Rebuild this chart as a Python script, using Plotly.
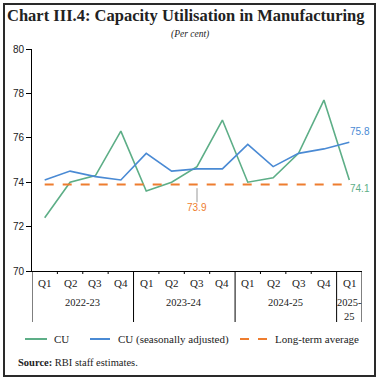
import plotly.graph_objects as go

quarters = ["Q1", "Q2", "Q3", "Q4", "Q1", "Q2", "Q3", "Q4", "Q1", "Q2", "Q3", "Q4", "Q1"]
years = ["2022-23", "2023-24", "2024-25", "2025-<br>25"]
year_spans = [(0, 3), (4, 7), (8, 11), (12, 12)]
cu = [72.4, 74.0, 74.3, 76.3, 73.6, 74.0, 74.7, 76.8, 74.0, 74.2, 75.3, 77.7, 74.1]
cu_sa = [74.1, 74.5, 74.25, 74.1, 75.3, 74.5, 74.6, 74.6, 75.7, 74.7, 75.3, 75.5, 75.8]
lta = 73.9
series_names = ["CU", "CU (seasonally adjusted)", "Long-term average"]

GREEN = "#5dae87"
BLUE = "#4a8ad4"
ORANGE = "#ee7d2f"
TXT = "#222222"
SERIF = "Liberation Serif, DejaVu Serif, serif"
SANS = "Liberation Sans, Arial, sans-serif"

W, H = 380, 380
ML, MR, MT, MB = 32, 18, 49, 109
PW = W - ML - MR
PH = H - MT - MB

def px_x(p):
    return (p - ML) / PW

def px_y(p):
    return (H - MB - p) / PH

x = list(range(len(quarters)))
n = len(quarters)

fig = go.Figure()
fig.add_trace(go.Scatter(x=x, y=cu, mode="lines", name=series_names[0],
                         line=dict(color=GREEN, width=1.6), showlegend=False))
fig.add_trace(go.Scatter(x=x, y=cu_sa, mode="lines", name=series_names[1],
                         line=dict(color=BLUE, width=1.6), showlegend=False))
fig.add_trace(go.Scatter(x=x, y=[lta] * n, mode="lines", name=series_names[2],
                         line=dict(color=ORANGE, width=2, dash="dash"), showlegend=False))

shapes = []
# outer frame
shapes.append(dict(type="rect", xref="paper", yref="paper",
                   x0=px_x(4), x1=px_x(375), y0=px_y(376), y1=px_y(4),
                   line=dict(color="#2a2a2a", width=2)))
for b in [-0.5, 3.5, 7.5, 11.5, n - 0.5]:
    shapes.append(dict(type="line", xref="x", yref="paper", x0=b, x1=b, y0=0, y1=px_y(322),
                       line=dict(color="black", width=1)))
for i in range(n - 1):
    b = i + 0.5
    if b in (3.5, 7.5, 11.5):
        continue
    shapes.append(dict(type="line", xref="x", yref="paper", x0=b, x1=b, y0=0, y1=px_y(274),
                       line=dict(color="black", width=1)))
shapes.append(dict(type="line", xref="x", yref="y", x0=6, x1=6, y0=lta - 0.17, y1=lta - 0.8,
                   line=dict(color="#999999", width=1)))

annotations = []
for i, q in enumerate(quarters):
    annotations.append(dict(x=i, y=px_y(283), xref="x", yref="paper", text=q, showarrow=False,
                            font=dict(family=SERIF, size=11, color=TXT), yanchor="middle"))
for (a, b), yl in zip(year_spans, years):
    yy = px_y(309) if "<br>" in yl else px_y(302)
    annotations.append(dict(x=(a + b) / 2, y=yy, xref="x", yref="paper", text=yl,
                            showarrow=False, font=dict(family=SERIF, size=10.5, color=TXT),
                            yanchor="middle"))
annotations.append(dict(x=6, y=lta - 1.05, xref="x", yref="y", text=f"{lta}", showarrow=False,
                        font=dict(family=SANS, size=10, color=ORANGE)))
annotations.append(dict(x=n - 1, y=cu_sa[-1], xref="x", yref="y", text=f"{cu_sa[-1]}",
                        showarrow=False, xanchor="left", yanchor="bottom", xshift=-1, yshift=3,
                        font=dict(family=SANS, size=10, color=BLUE)))
annotations.append(dict(x=n - 1, y=cu[-1], xref="x", yref="y", text=f"{cu[-1]}",
                        showarrow=False, xanchor="left", yanchor="top", xshift=-1, yshift=-1,
                        font=dict(family=SANS, size=10, color=GREEN)))
annotations.append(dict(x=px_x(186), y=px_y(16), xref="paper", yref="paper",
                        text="<b>Chart III.4: Capacity Utilisation in Manufacturing</b>",
                        showarrow=False, yanchor="middle",
                        font=dict(family=SERIF, size=16.5, color=TXT)))
annotations.append(dict(x=px_x(190), y=px_y(35), xref="paper", yref="paper",
                        text="<i>(Per cent)</i>", showarrow=False, yanchor="middle",
                        font=dict(family=SERIF, size=9.5, color=TXT)))
leg_y = 339
leg_items = [(25, 47, 52, GREEN, "solid"), (90, 110, 116, BLUE, "solid"), (240, 268, 273, ORANGE, "dash")]
for (lx0, lx1, tx, col, dash), name in zip(leg_items, series_names):
    shapes.append(dict(type="line", xref="paper", yref="paper", x0=px_x(lx0), x1=px_x(lx1),
                       y0=px_y(leg_y), y1=px_y(leg_y),
                       line=dict(color=col, width=2, dash=dash)))
    annotations.append(dict(x=px_x(tx), y=px_y(leg_y), xref="paper", yref="paper", text=name,
                            showarrow=False, xanchor="left", yanchor="middle",
                            font=dict(family=SERIF, size=11, color=TXT)))
annotations.append(dict(xref="paper", yref="paper", x=px_x(16), y=px_y(362), xanchor="left",
                        yanchor="middle",
                        text="<b>Source:</b> RBI staff estimates.", showarrow=False,
                        font=dict(family=SERIF, size=10.5, color=TXT)))

fig.update_layout(
    width=W, height=H,
    margin=dict(l=ML, r=MR, t=MT, b=MB),
    plot_bgcolor="white", paper_bgcolor="white",
    showlegend=False,
    xaxis=dict(range=[-0.5, n - 0.5], showticklabels=False, showgrid=False, zeroline=False,
               showline=True, linecolor="black", linewidth=1, ticks=""),
    yaxis=dict(range=[70, 80], dtick=2, showgrid=False, zeroline=False, showline=True,
               linecolor="black", linewidth=1, ticks="outside", ticklen=5, tickcolor="black",
               tickfont=dict(family=SANS, size=10, color=TXT)),
    shapes=shapes,
    annotations=annotations,
)
fig.write_html("out.html", post_script="document.body.style.margin='0';",
               config={"displayModeBar": False})
